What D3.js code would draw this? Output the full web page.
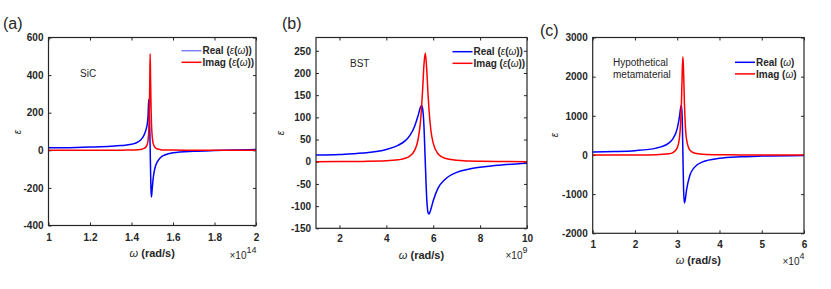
<!DOCTYPE html>
<html>
<head>
<meta charset="utf-8">
<script src="https://cdn.jsdelivr.net/npm/d3@7"></script>
<style>
body { margin: 0; background: #fff; }
text { font-family: "Liberation Sans", Arial, sans-serif; fill: #262626; }
.tick line { stroke: #262626; }
</style>
</head>
<body>
<div id="chart"></div>
<script>
var w = 831;
var h = 289;

// (a) SiC -- omega in units of 1e14 rad/s
var sicOmega = [1.00, 1.10, 1.20, 1.30, 1.35, 1.40, 1.43, 1.45, 1.46, 1.47, 1.476, 1.480, 1.483, 1.486, 1.488, 1.490, 1.492, 1.494, 1.496, 1.499, 1.503, 1.508, 1.515, 1.525, 1.54, 1.56, 1.60, 1.70, 1.80, 1.90, 2.00];
var sicReal = [13, 14, 17, 21, 25, 32, 44, 62, 80, 110, 140, 185, 270, 200, 110, 10, -120, -210, -248, -215, -165, -122, -86, -60, -38, -25, -13, -5, -1, 2, 4];
var sicImag = [0, 0, 0, 0.5, 0.8, 1.3, 2.7, 5.8, 9.7, 19, 32, 55, 100, 210, 360, 513, 370, 240, 150, 85, 45, 25, 13, 7, 3.5, 2, 1, 0.4, 0.2, 0.1, 0.1];
var sicXTicks = [1, 1.2, 1.4, 1.6, 1.8, 2];
var sicYTicks = [-400, -200, 0, 200, 400, 600];

// (b) BST -- omega in units of 1e9 rad/s
var bstOmega = [1, 2, 3, 4, 4.5, 4.8, 5.0, 5.2, 5.35, 5.45, 5.5, 5.55, 5.6, 5.66, 5.72, 5.78, 5.82, 5.9, 6.0, 6.2, 6.5, 7, 7.5, 8, 9, 10];
var bstReal = [15, 16.3, 19.6, 27.8, 37, 47, 59, 79, 103, 122, 127, 119, 85, 1, -80, -115, -118, -107, -88, -60, -40, -24, -17, -12.5, -7, -3.5];
var bstImag = [0.1, 0.3, 0.8, 2, 4.3, 7.7, 12.8, 25, 49, 87, 120, 164, 215, 245, 211, 151, 117, 71, 42, 18, 8, 3.2, 1.6, 1, 0.5, 0.2];
var bstXTicks = [2, 4, 6, 8, 10];
var bstYTicks = [-150, -100, -50, 0, 50, 100, 150, 200, 250];

// (c) hypothetical metamaterial -- omega in units of 1e4 rad/s
var metaOmega = [1, 1.5, 2, 2.5, 2.8, 2.9, 3.0, 3.05, 3.08, 3.10, 3.12, 3.135, 3.15, 3.17, 3.19, 3.22, 3.3, 3.4, 3.6, 4, 4.5, 5, 6];
var metaReal = [77, 88, 111, 175, 303, 416, 673, 953, 1195, 1275, 879, 10, -851, -1228, -1143, -899, -517, -323, -177, -86, -47, -29, -12];
var metaImag = [0.6, 1.1, 2.6, 8.6, 31, 62, 180, 411, 801, 1349, 2173, 2509, 2151, 1332, 792, 406, 123, 49, 16, 4.6, 1.8, 1, 0.4];
var metaXTicks = [1, 2, 3, 4, 5, 6];
var metaYTicks = [-2000, -1000, 0, 1000, 2000, 3000];

var svg = d3.select("#chart")
    .append("svg")
    .attr("width", w)
    .attr("height", h);

var panels = [
    {letter: "(a)", lx: 3, ly: 29, box: [48.5, 37.5, 256, 225.5],
     xs: sicOmega, re: sicReal, im: sicImag, xDomain: [1, 2], yDomain: [-400, 600],
     xTicks: sicXTicks, yTicks: sicYTicks, exp: "14", legendX: 181.5, legendY: 50.7,
     labelEps: true, legendBlue: "#7f7fff", note: ["SiC"], noteX: 80, noteY: 77,
     epsX: 21, epsY: 132, padX: 8, titleDy: 31, expDy: 33},
    {letter: "(b)", lx: 282, ly: 29, box: [316, 37.5, 527, 228.3],
     xs: bstOmega, re: bstReal, im: bstImag, xDomain: [1, 10], yDomain: [-150, 280],
     xTicks: bstXTicks, yTicks: bstYTicks, exp: "9", legendX: 452.5, legendY: 51.7,
     labelEps: true, legendBlue: "#0000ff", note: ["BST"], noteX: 350, noteY: 67,
     epsX: 284, epsY: 133, padX: 7, titleDy: 31, expDy: 31},
    {letter: "(c)", lx: 540, ly: 36, box: [592.7, 37.5, 804, 233.3],
     xs: metaOmega, re: metaReal, im: metaImag, xDomain: [1, 6], yDomain: [-2000, 3000],
     xTicks: metaXTicks, yTicks: metaYTicks, exp: "4", legendX: 735, legendY: 62.3,
     labelEps: false, legendBlue: "#0000ff", note: ["Hypothetical", "metamaterial"], noteX: 613, noteY: 66,
     epsX: 558, epsY: 135, padX: 8, titleDy: 31, expDy: 32}
];

function fmt(d) { return String(d); }

function drawPanel(p) {
    var left = p.box[0], top = p.box[1];
    var width = p.box[2] - p.box[0],
        height = p.box[3] - p.box[1];

    var x = d3.scaleLinear().domain(p.xDomain).range([0, width]);
    var y = d3.scaleLinear().domain(p.yDomain).range([height, 0]);

    var g = svg.append("g")
        .attr("transform", "translate(" + left + "," + top + ")");

    // ticks point inward on all four sides, like matlab's box on
    g.append("g")
        .attr("transform", "translate(0," + height + ")")
        .call(d3.axisBottom(x).tickValues(p.xTicks).tickSizeInner(-3).tickSizeOuter(0)
            .tickPadding(p.padX).tickFormat(fmt));
    g.append("g")
        .call(d3.axisTop(x).tickValues(p.xTicks).tickSizeInner(-3).tickSizeOuter(0).tickFormat(""));
    g.append("g")
        .call(d3.axisLeft(y).tickValues(p.yTicks).tickSizeInner(-3).tickSizeOuter(0)
            .tickPadding(5).tickFormat(fmt));
    g.append("g")
        .attr("transform", "translate(" + width + ",0)")
        .call(d3.axisRight(y).tickValues(p.yTicks).tickSizeInner(-3).tickSizeOuter(0).tickFormat(""));

    g.selectAll(".domain").remove();
    g.selectAll(".tick text")
        .style("font-family", "'Liberation Sans', Arial, sans-serif")
        .style("font-size", "10px")
        .style("font-weight", "bold")
        .attr("fill", "#262626");

    var values = p.xs.map(function (d, i) {
        return {x: d, re: p.re[i], im: p.im[i]};
    });

    var lineRe = d3.line()
        .x(function (d) { return x(d.x); })
        .y(function (d) { return y(d.re); })
        .curve(d3.curveMonotoneX);
    var lineIm = d3.line()
        .x(function (d) { return x(d.x); })
        .y(function (d) { return y(d.im); })
        .curve(d3.curveMonotoneX);

    g.append("path")
        .datum(values)
        .attr("fill", "none")
        .attr("stroke", "#0000ff")
        .attr("stroke-width", 1.5)
        .attr("d", lineRe);
    g.append("path")
        .datum(values)
        .attr("fill", "none")
        .attr("stroke", "#ff0000")
        .attr("stroke-width", 1.5)
        .attr("d", lineIm);

    // the box
    g.append("rect")
        .attr("width", width)
        .attr("height", height)
        .attr("fill", "none")
        .attr("stroke", "#262626")
        .attr("stroke-width", 1.2);

    // x title and the exponent
    var title = svg.append("text")
        .attr("x", left + width / 2)
        .attr("y", top + height + p.titleDy)
        .attr("text-anchor", "middle")
        .style("font-size", "11px");
    title.append("tspan").style("font-style", "italic").text("ω");
    title.append("tspan").style("font-weight", "bold").text(" (rad/s)");

    var ex = svg.append("text")
        .attr("x", left + width + 0.5)
        .attr("y", top + height + p.expDy)
        .attr("text-anchor", "end")
        .style("font-size", "10px");
    ex.append("tspan").text("×10");
    ex.append("tspan").attr("dy", -6).style("font-size", "9px").text(p.exp);

    // y title
    svg.append("text")
        .attr("transform", "translate(" + p.epsX + "," + p.epsY + ") rotate(-90)")
        .attr("text-anchor", "middle")
        .style("font-size", "10px")
        .style("font-style", "italic")
        .text("ε");

    // panel letter
    svg.append("text")
        .attr("x", p.lx)
        .attr("y", p.ly)
        .style("font-size", "16px")
        .text(p.letter);

    // material note
    p.note.forEach(function (s, i) {
        svg.append("text")
            .attr("x", p.noteX)
            .attr("y", p.noteY + i * 12)
            .style("font-size", "10px")
            .text(s);
    });

    // legend
    var entries = [{name: "Real", color: p.legendBlue}, {name: "Imag", color: "#ff0000"}];
    entries.forEach(function (e, i) {
        var ly = p.legendY + i * 11.6;
        svg.append("line")
            .attr("x1", p.legendX).attr("x2", p.legendX + 20)
            .attr("y1", ly).attr("y2", ly)
            .attr("stroke", e.color)
            .attr("stroke-width", 1.5);
        var t = svg.append("text")
            .attr("x", p.legendX + 21)
            .attr("y", ly + 3.6)
            .style("font-size", "10px")
            .style("font-weight", "bold");
        t.append("tspan").text(e.name + " (");
        if (p.labelEps) {
            t.append("tspan").style("font-style", "italic").style("font-weight", "normal").text("ε");
            t.append("tspan").text("(");
            t.append("tspan").style("font-style", "italic").style("font-weight", "normal").text("ω");
            t.append("tspan").text("))");
        } else {
            t.append("tspan").style("font-style", "italic").style("font-weight", "normal").text("ω");
            t.append("tspan").text(")");
        }
    });
}

panels.forEach(drawPanel);
</script>
</body>
</html>
